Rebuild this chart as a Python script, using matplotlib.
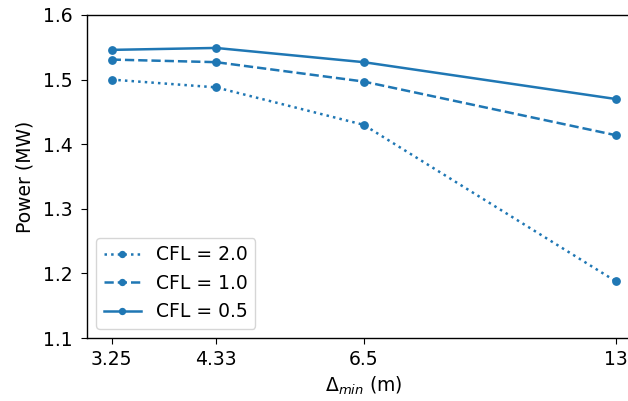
import matplotlib.pyplot as plt
from matplotlib.ticker import FixedLocator, FixedFormatter, NullLocator

# data
delta_min = [3.25, 4.33, 6.5, 13]
delta_labels = ["3.25", "4.33", "6.5", "13"]
power_cfl20 = [1.500, 1.488, 1.430, 1.188]
power_cfl10 = [1.531, 1.527, 1.497, 1.414]
power_cfl05 = [1.546, 1.549, 1.527, 1.470]

plt.rcParams["font.size"] = 13.5
plt.rcParams["xtick.major.size"] = 4
plt.rcParams["ytick.major.size"] = 4
plt.rcParams["xtick.major.pad"] = 4.5
plt.rcParams["ytick.major.pad"] = 6
plt.rcParams["axes.linewidth"] = 1.0

fig = plt.figure(figsize=(6.28, 4.01), dpi=100)
# axes run past the right edge of the picture, as in the reference crop
ax = fig.add_axes([86.7 / 628, 63 / 401, (640.7 - 86.7) / 628, (338 - 15) / 401])

color = "#1f77b4"
ax.plot(delta_min, power_cfl20, ":", marker="o", ms=5.3, lw=1.8, color=color, label="CFL = 2.0")
ax.plot(delta_min, power_cfl10, "--", marker="o", ms=5.3, lw=1.8, color=color, label="CFL = 1.0")
ax.plot(delta_min, power_cfl05, "-", marker="o", ms=5.3, lw=1.8, color=color, label="CFL = 0.5")

ax.set_xscale("log")
ax.set_xlim(3.034, 13.93)
ax.xaxis.set_major_locator(FixedLocator(delta_min))
ax.xaxis.set_major_formatter(FixedFormatter(delta_labels))
ax.xaxis.set_minor_locator(NullLocator())
ax.set_ylim(1.1, 1.6)
ax.set_yticks([1.1, 1.2, 1.3, 1.4, 1.5, 1.6])

ax.spines["right"].set_visible(False)
ax.set_xlabel(r"$\Delta_{min}$ (m)")
ax.set_ylabel("Power (MW)", labelpad=6)
ax.legend(loc="lower left", markerscale=0.8)

fig.savefig("out.png", dpi=100)
